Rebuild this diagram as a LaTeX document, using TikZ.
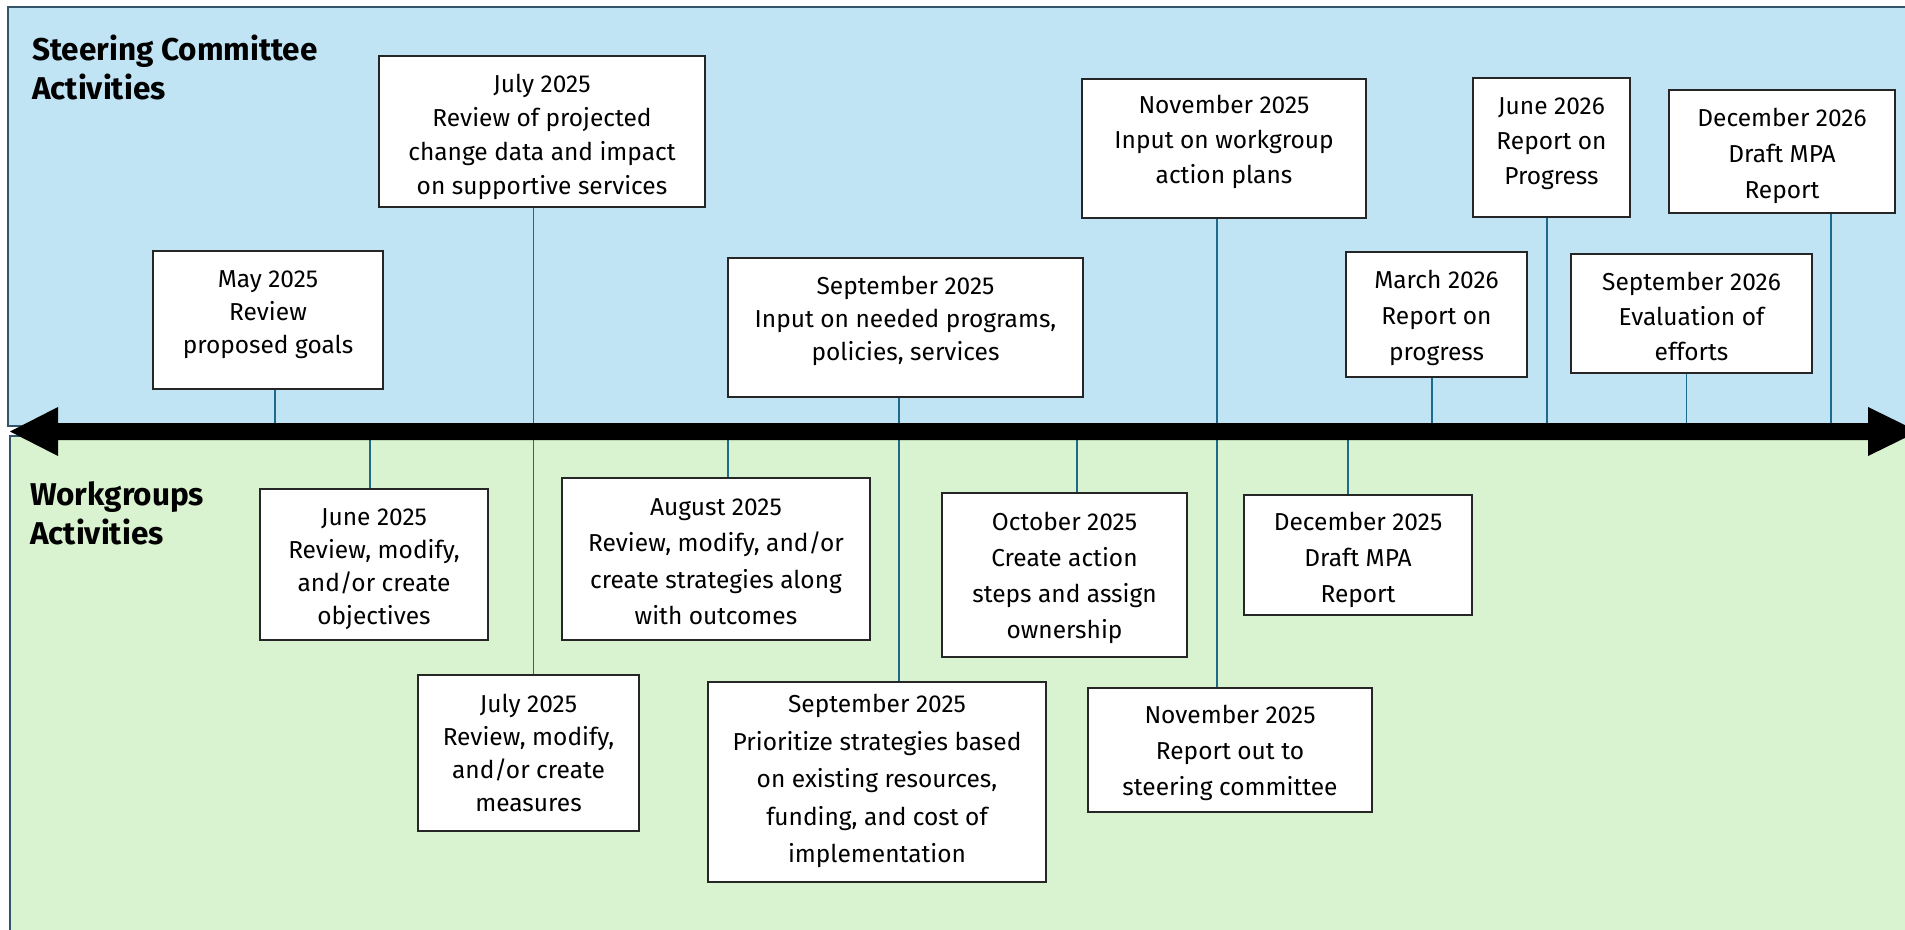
\documentclass[tikz,border=0pt]{standalone}
\usepackage{fontspec}
\setmainfont{Fira Sans}
\definecolor{skyfill}{RGB}{192,228,244}
\definecolor{leaffill}{RGB}{217,242,208}
\definecolor{regionline}{RGB}{50,85,105}
\definecolor{connline}{RGB}{30,105,140}
\definecolor{boxline}{RGB}{38,38,38}
\begin{document}
\begin{tikzpicture}[x=1pt,y=-1pt,
  evbox/.style 2 args={draw=boxline, line width=1.8pt, fill=white, inner sep=0pt, minimum width=#1, minimum height=#2},
  evtext/.style={align=center, inner sep=0pt, font=\fontsize{24.5}{#1}\selectfont},
  conn/.style={draw=connline, line width=1.8pt},
  region/.style={draw=regionline, line width=2pt},
  paneltitle/.style={font=\fontsize{31.5}{39}\selectfont\bfseries, align=left, inner sep=0pt, anchor=north west}]
\useasboundingbox (0,0) rectangle (1905,929);
% regions
\filldraw[region, fill=skyfill] (8,7) rectangle (1915,426);
\filldraw[region, fill=leaffill] (10,436) rectangle (1915,940);
% axis coordinates
\coordinate (tmay) at (275,431.5);
\coordinate (tjun) at (369.6,431.5);
\coordinate (tjul) at (533.5,431.5);
\coordinate (taug) at (728,431.5);
\coordinate (tsep) at (899,431.5);
\coordinate (toct) at (1077,431.5);
\coordinate (tnov) at (1217,431.5);
\coordinate (tdec) at (1348,431.5);
\coordinate (tmar) at (1431.7,431.5);
\coordinate (tjun26) at (1546.6,431.5);
\coordinate (tsep26) at (1686.5,431.5);
\coordinate (tdec26) at (1831,431.5);
\coordinate (axL) at (10,431.5);
\coordinate (axR) at (1918,431.5);
% steering boxes
\node[evbox={230pt}{138pt}] (may25) at (268,320) {};
\node[evtext=33pt] (may25t) at (268,315) {May 2025\\Review\\proposed goals};
\node[evbox={326pt}{151pt}] (jul25a) at (542,131.5) {};
\node[evtext=34pt] (jul25at) at (542,137) {July 2025\\Review of projected\\change data and impact\\on supportive services};
\node[evbox={355pt}{139pt}] (sep25a) at (905.5,327.5) {};
\node[evtext=33pt] (sep25at) at (905.5,320.5) {September 2025\\Input on needed programs,\\policies, services};
\node[evbox={284pt}{139pt}] (nov25a) at (1224,148.5) {};
\node[evtext=35pt] (nov25at) at (1224,141.5) {November 2025\\Input on workgroup\\action plans};
\node[evbox={157pt}{139pt}] (jun26) at (1551.5,147.5) {};
\node[evtext=35pt] (jun26t) at (1551.5,143.5) {June 2026\\Report on\\Progress};
\node[evbox={226pt}{123pt}] (dec26) at (1782,151.5) {};
\node[evtext=36pt] (dec26t) at (1782,156) {December 2026\\Draft MPA\\Report};
\node[evbox={181pt}{125pt}] (mar26) at (1436.5,314.5) {};
\node[evtext=36pt] (mar26t) at (1436.5,317.5) {March 2026\\Report on\\progress};
\node[evbox={241pt}{119pt}] (sep26) at (1691.5,313.5) {};
\node[evtext=35pt] (sep26t) at (1691.5,316) {September 2026\\Evaluation of\\efforts};
% workgroup boxes
\node[evbox={228pt}{151pt}] (jun25) at (374,564.5) {};
\node[evtext=33pt] (jun25t) at (374,569.5) {June 2025\\Review, modify,\\and/or create\\objectives};
\node[evbox={308pt}{162pt}] (aug25) at (716,559) {};
\node[evtext=36.5pt] (aug25t) at (716,561.5) {August 2025\\Review, modify, and/or\\create strategies along\\with outcomes};
\node[evbox={245pt}{164pt}] (oct25) at (1064.5,575) {};
\node[evtext=36pt] (oct25t) at (1064.5,577.5) {October 2025\\Create action\\steps and assign\\ownership};
\node[evbox={228pt}{120pt}] (dec25) at (1358,555) {};
\node[evtext=36pt] (dec25t) at (1358,559.5) {December 2025\\Draft MPA\\Report};
\node[evbox={221pt}{156pt}] (jul25b) at (528.5,753) {};
\node[evtext=33pt] (jul25bt) at (528.5,752.5) {July 2025\\Review, modify,\\and/or create\\measures};
\node[evbox={338pt}{200pt}] (sep25b) at (877,782) {};
\node[evtext=37.5pt] (sep25bt) at (877,781) {September 2025\\Prioritize strategies based\\on existing resources,\\funding, and cost of\\implementation};
\node[evbox={284pt}{124pt}] (nov25b) at (1230,750) {};
\node[evtext=36pt] (nov25bt) at (1230,753) {November 2025\\Report out to\\steering committee};
% connectors
\draw[conn] (may25.south -| tmay) -- (tmay);
\draw[conn] (mar26.south -| tmar) -- (tmar);
\draw[conn] (jun26.south -| tjun26) -- (tjun26);
\draw[conn] (sep26.south -| tsep26) -- (tsep26);
\draw[conn] (dec26.south -| tdec26) -- (tdec26);
\draw[conn] (tjun) -- (jun25.north -| tjun);
\draw[conn] (taug) -- (aug25.north -| taug);
\draw[conn] (toct) -- (oct25.north -| toct);
\draw[conn] (tdec) -- (dec25.north -| tdec);
\draw[conn] (jul25a.south -| tjul) -- (jul25b.north -| tjul);
\draw[conn] (sep25a.south -| tsep) -- (sep25b.north -| tsep);
\draw[conn] (nov25a.south -| tnov) -- (nov25b.north -| tnov);
% timeline axis
\fill[black] (axL) -- (58,407) -- (58,423) -- (1868,423) -- (1868,407) -- (axR) -- (1868,456) -- (1868,440) -- (58,440) -- (58,456) -- cycle;
% titles
\node[paneltitle] (steertitle) at (32,35) {Steering Committee\\Activities};
\node[paneltitle] (worktitle) at (30,481) {Workgroups\\Activities};
\end{tikzpicture}
\end{document}
